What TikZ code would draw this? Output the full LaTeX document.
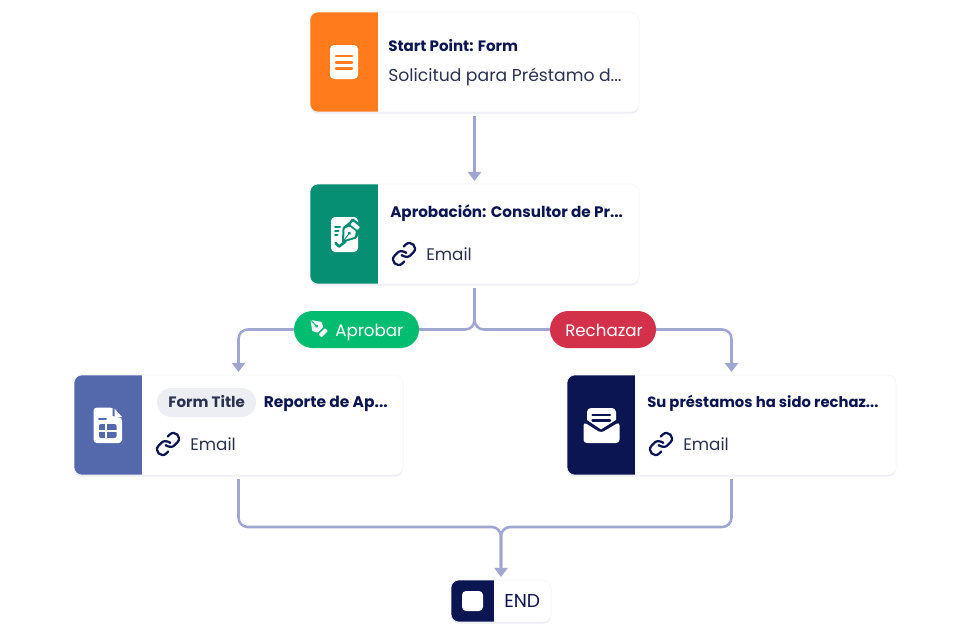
\documentclass[tikz,border=0pt]{standalone}
\usepackage{fontspec}
\setmainfont{Poppins}
\usetikzlibrary{arrows.meta,shadows,backgrounds,calc}
\definecolor{navy}{HTML}{0A1551}
\definecolor{inktext}{HTML}{2B3250}
\definecolor{flowc}{HTML}{A0A6D2}
\definecolor{orangep}{HTML}{FF7B1C}
\definecolor{greenp}{HTML}{078F73}
\definecolor{bluep}{HTML}{5369AB}
\definecolor{pillgreen}{HTML}{02BD6F}
\definecolor{pillred}{HTML}{D3304A}
\definecolor{chipc}{HTML}{EDEEF3}
\newcommand{\nibshape}[1]{%
  \fill[white,rounded corners=.5pt] (-12,0) -- (-3,-6.5) -- (2,-4) -- (2,4) -- (-3,6.5) -- cycle;
  \fill[#1] (-3.5,0) circle (1.3pt);
  \draw[#1,line width=.7pt] (-12,0) -- (-3.5,0);
  \fill[white,rounded corners=.5pt] (4,-4.5) rectangle (8,4.5);
}
\tikzset{
  panel/.style 2 args={path picture={\fill[#1,sharp corners] (path picture bounding box.north west) rectangle ([xshift=#2*0.75pt]path picture bounding box.south west);}},
  cardbox/.style={draw=black!4,line width=.4pt,fill=white,rounded corners=6pt,inner sep=0pt,outer sep=0pt,
    minimum width=246.75pt,minimum height=75pt,
    drop shadow={shadow xshift=0pt,shadow yshift=-1.2pt,opacity=.08,fill=navy}},
  endbox/.style={cardbox,minimum width=75pt,minimum height=31.5pt},
  flow/.style={draw=flowc,line width=1.9pt,rounded corners=7pt},
  flowtip/.style={flow,-{Triangle[width=9.8pt,length=6.8pt]},shorten >=2.25pt},
  pill/.style={rounded corners=13.8pt,inner sep=0pt,outer sep=0pt,minimum height=27.75pt},
  pillt/.style={anchor=base west,inner sep=0pt,text=white,font=\fontsize{12.5}{15}\selectfont},
  boldt/.style={anchor=base west,inner sep=0pt,text=navy,font=\fontsize{11.3}{13}\selectfont\bfseries},
  regt/.style={anchor=base west,inner sep=0pt,text=inktext,font=\fontsize{12.6}{15}\selectfont},
  chip/.style={fill=chipc,rounded corners=10.8pt,inner sep=0pt,minimum width=74.25pt,minimum height=21.75pt},
  chipt/.style={boldt,text=inktext},
  linkicon/.pic={
    \begin{scope}[rotate=45,scale=1.1,draw=navy,line width=1.7pt,line cap=round]
      \draw (-2.3,-0.8) .. controls (-1.5,2.5) and (0.5,5) .. (3,5) -- (7,5) .. controls (13.7,5) and (13.7,-5) .. (7,-5) -- (4.6,-5);
      \draw (2.3,0.8) .. controls (1.5,-2.5) and (-0.5,-5) .. (-3,-5) -- (-7,-5) .. controls (-13.7,-5) and (-13.7,5) .. (-7,5) -- (-4.6,5);
    \end{scope}
  },
}
\begin{document}
\begin{tikzpicture}[x=0.75pt,y=-0.75pt]
\path[use as bounding box] (0,0) rectangle (968,633);

% cards
\node[cardbox,panel={orangep}{68}] (a) at (474.5,62) {};
\node[cardbox,panel={greenp}{68}] (b) at (474.5,234) {};
\node[cardbox,panel={bluep}{68}] (c) at (238.5,425) {};
\node[cardbox,panel={navy}{68}] (d) at (731.5,425) {};
\node[endbox,panel={navy}{43}] (e) at (501,601) {};

% outcome pills
\node[pill,fill=pillgreen,minimum width=93.75pt] (yes) at (356.5,329.5) {};
\node[pill,fill=pillred,minimum width=79.5pt] (no) at (603,329.5) {};
\node[pillt] (yest) at (335,336.5) {Aprobar};
\node[pillt] (not) at (565,336.5) {Rechazar};

\coordinate (merge) at (501,527);

% connectors
\begin{scope}[on background layer]
  \fill[white] (0,0) rectangle (968,633);
  \draw[flowtip,shorten <=3pt] (a.south) -- (b.north);
  \draw[flow,shorten <=3pt] (b.south) |- (yes.east);
  \draw[flow,shorten <=3pt] (b.south) |- (no.west);
  \draw[flowtip] (yes.west) -| (c.north);
  \draw[flowtip] (no.east) -| (d.north);
  \draw[flow,shorten <=3pt,shorten >=8pt] (c.south) |- (merge) -- (e.north);
  \draw[flow,shorten <=3pt,shorten >=8pt] (d.south) |- (merge) -- (e.north);
  \draw[flowtip] ($(merge)+(0,16)$) -- (e.north);
\end{scope}

% card text
\node[boldt] (t1) at (388,51.5) {Start Point: Form};
\node[regt,font=\fontsize{12.9}{15}\selectfont] (t2) at (388,81.5) {Solicitud para Préstamo d...};
\node[boldt,font=\fontsize{11.4}{13}\selectfont\bfseries] (t3) at (390,217.5) {Aprobación: Consultor de Pr...};
\node[regt] (t4) at (426,260.5) {Email};
\node[chip] (t5chip) at (206.5,402.5) {};
\node[chipt] (t5) at (168,407.5) {Form Title};
\node[boldt,font=\fontsize{11.6}{13}\selectfont\bfseries] (t6) at (263.5,407.5) {Reporte de Ap...};
\node[regt] (t7) at (190,450.5) {Email};
\node[boldt,font=\fontsize{11.1}{13}\selectfont\bfseries] (t8) at (647,407.5) {Su préstamos ha sido rechaz...};
\node[regt] (t9) at (683,450.5) {Email};
\node[regt,text=navy,font=\fontsize{14}{15}\selectfont] (t10) at (504,607.5) {END};

% link icons
\pic at (404,254) {linkicon};
\pic at (168,444) {linkicon};
\pic at (661,444) {linkicon};

% form icon
\fill[white,rounded corners=3pt] (330,45) rectangle (358,79);
\foreach \yy in {56,62.5,68.5}
  \draw[orangep,line width=2.2pt,line cap=round] (336,\yy) -- (352,\yy);

% approval icon
\fill[white,rounded corners=3pt] (331,217) rectangle (358,252);
\begin{scope}[shift={(351.5,230.5)},rotate=52]
  \fill[greenp,rounded corners=1pt] (-15.5,0) -- (-3,-9) -- (4,-7) -- (10.5,-7) -- (10.5,7) -- (4,7) -- (-3,9) -- cycle;
  \nibshape{greenp}
\end{scope}
\draw[greenp,line width=1.5pt,line cap=round] (335,227) -- (340,227) (335,231) -- (338.5,231) (335,235) -- (337.5,235);
\draw[greenp,line width=2pt,line cap=round,line join=round] (335.5,243) -- (339,246.5) -- (345.5,241.5);

% table icon
\fill[white,rounded corners=2.5pt] (93.5,407.5) -- (113,407.5) -- (122,418) -- (122,443) -- (93.5,443) -- cycle;
\fill[bluep] (112.5,407) -- (112.5,416) -- (122,418) -- (123,407) -- cycle;
\fill[white] (114.5,408.5) -- (114.5,417) -- (122,417) -- cycle;
\draw[bluep,line width=1.5pt,line cap=round] (99,419) -- (106,419);
\fill[bluep,rounded corners=1.5pt] (99,424) rectangle (116.5,438);
\draw[white,line width=1pt] (99,431) -- (116.5,431) (106,424) -- (106,438);

% envelope icon
\fill[white,rounded corners=3pt] (587,408) rectangle (616,436);
\draw[navy,line width=1.8pt,line cap=round] (592.5,415) -- (610,415) (592.5,420.5) -- (610,420.5);
\fill[navy] (582,419.5) -- (586,419.5) -- (601,429.5) -- (617,419.5) -- (621,419.5) -- (621,432) -- (582,432) -- cycle;
\fill[white,rounded corners=2.5pt] (583.5,422) -- (601,433) -- (619.5,422) -- (619.5,443) -- (583.5,443) -- cycle;

% end icon
\fill[white,rounded corners=3pt] (462,591) rectangle (483,611);

% Aprobar nib
\begin{scope}[shift={(319,328.5)},rotate=-45]
  \nibshape{pillgreen}
\end{scope}
\end{tikzpicture}
\end{document}
